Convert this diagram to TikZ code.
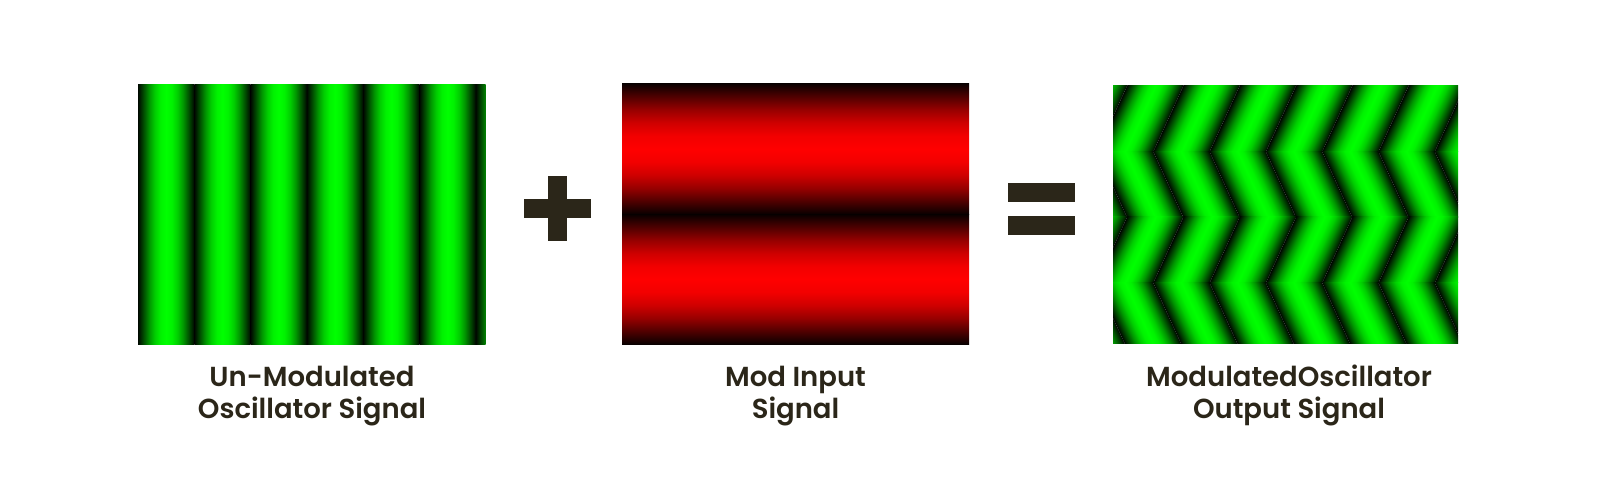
\documentclass[tikz,border=0pt]{standalone}
\usepackage{fontspec}
\setmainfont{Poppins}[BoldFont={* SemiBold}]
\definecolor{ink}{HTML}{2B2619}
\pgfdeclarehorizontalshading{gstripe}{100bp}{rgb(0bp)=(0,0.03,0); rgb(25bp)=(0,0.03,0); rgb(27.5bp)=(0,0.17,0); rgb(30bp)=(0,0.31,0); rgb(35bp)=(0,0.59,0); rgb(40bp)=(0,0.81,0); rgb(45bp)=(0,0.95,0); rgb(50bp)=(0,1,0); rgb(55bp)=(0,0.95,0); rgb(60bp)=(0,0.81,0); rgb(65bp)=(0,0.59,0); rgb(70bp)=(0,0.31,0); rgb(72.5bp)=(0,0.17,0); rgb(75bp)=(0,0.03,0); rgb(100bp)=(0,0.03,0)}
\pgfdeclareverticalshading{rstripe}{100bp}{rgb(0bp)=(0.03,0,0); rgb(25bp)=(0.03,0,0); rgb(27.5bp)=(0.17,0,0); rgb(30bp)=(0.31,0,0); rgb(35bp)=(0.59,0,0); rgb(40bp)=(0.81,0,0); rgb(45bp)=(0.95,0,0); rgb(50bp)=(1,0,0); rgb(55bp)=(0.95,0,0); rgb(60bp)=(0.81,0,0); rgb(65bp)=(0.59,0,0); rgb(70bp)=(0.31,0,0); rgb(72.5bp)=(0.17,0,0); rgb(75bp)=(0.03,0,0); rgb(100bp)=(0.03,0,0)}
\tikzset{
  gband/.style={shading=gstripe, draw=none},
  rband/.style={shading=rstripe, draw=none},
  signbar/.style={fill=ink, draw=none},
  lbl/.style={font=\fontsize{27.5}{32}\selectfont\bfseries, text=ink, anchor=base, inner sep=0pt}
}
\begin{document}
\begin{tikzpicture}[x=1pt,y=1pt]
\useasboundingbox (0,0) rectangle (1600,486);
\fill[white] (0,0) rectangle (1600,486);

% Panel 1: un-modulated oscillator (vertical stripes)
\begin{scope}
  \clip (138,141) rectangle (485.7,401);
  \foreach \k in {0,...,6} {
    \shade[gband] (138+56.3*\k,141) rectangle (138+56.3*\k+56.3,401);
  }
\end{scope}

% Panel 2: mod input (horizontal bands)
\shade[rband] (622,271.7) rectangle (969,402.7);
\shade[rband] (622,141.7) rectangle (969,271.7);

% Panel 3: modulated output (zigzag stripes)
\foreach \yb/\yt/\sl/\sh in {334.3/400/0.457/-152.78, 268.4/334.6/-0.457/152.78, 203.1/269.0/0.457/-92.82, 142/203.4/-0.457/92.82} {
  \begin{scope}
    \clip (1113,\yb) rectangle (1458,\yt);
    \begin{scope}[transform canvas={xshift=\sh pt, xslant=\sl}]
      \foreach \k in {-3,...,6} {
        \shade[gband] (1153.3+56.3*\k,130) rectangle (1153.3+56.3*\k+56.3,410);
      }
    \end{scope}
  \end{scope}
}

% plus sign
\fill[signbar] (548.3,244.7) rectangle (567,310.3);
\fill[signbar] (524.3,268.3) rectangle (591,286.7);
% equals sign
\fill[signbar] (1008.3,284.3) rectangle (1075,303);
\fill[signbar] (1008.3,251) rectangle (1075,269.7);

% labels
\node[lbl] (l1a) at (312,99.3) {Un-Modulated};
\node[lbl] (l1b) at (312,67) {Oscillator Signal};
\node[lbl] (l2a) at (795.5,99.3) {Mod Input};
\node[lbl] (l2b) at (795.5,67) {Signal};
\node[lbl] (l3a) at (1289,99.3) {ModulatedOscillator};
\node[lbl] (l3b) at (1289,67) {Output Signal};
\end{tikzpicture}
\end{document}
